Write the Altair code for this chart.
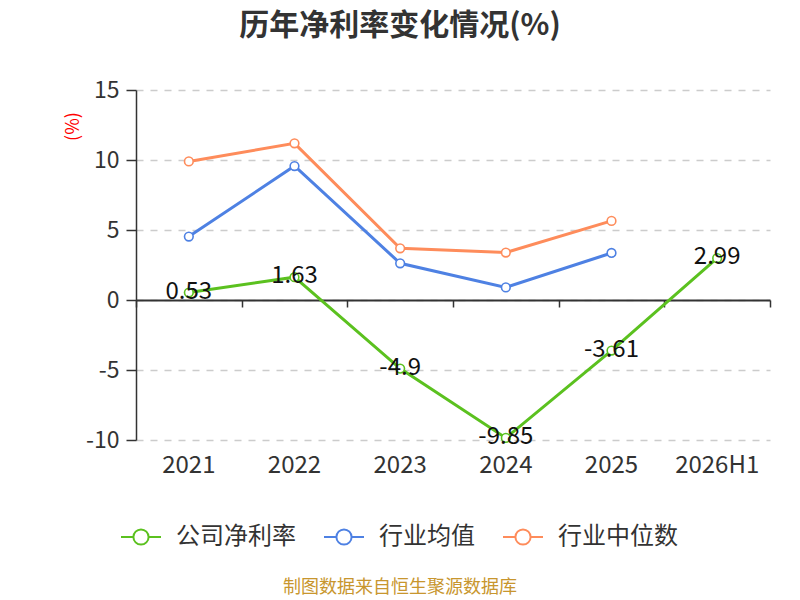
import altair as alt
import pandas as pd

years = ["2021", "2022", "2023", "2024", "2025", "2026H1"]
company = [0.53, 1.63, -4.9, -9.85, -3.61, 2.99]
ind_mean = [4.53, 9.57, 2.62, 0.9, 3.36, None]
ind_median = [9.9, 11.19, 3.69, 3.39, 5.65, None]
series_names = ["公司净利率", "行业均值", "行业中位数"]
colors = ["#5bc11f", "#4e81e3", "#fe8c5b"]
y_ticks = [-10, -5, 0, 5, 10, 15]

FONT = "Noto Sans CJK SC"

rows = []
for name, vals in zip(series_names, [company, ind_mean, ind_median]):
    for yr, v in zip(years, vals):
        if v is not None:
            rows.append({"year": yr, "series": name, "value": v,
                         "label": f"{v:g}" if name == series_names[0] else ""})
df = pd.DataFrame(rows)

W, H = 634, 350
zero_offset = -H * 10 / 25  # y=0 position from bottom

xscale = alt.Scale(type="band", domain=years, paddingInner=0, paddingOuter=0)
yscale = alt.Scale(domain=[-10, 15], nice=False, zero=False)
cscale = alt.Scale(domain=series_names, range=colors)

yaxis = alt.Axis(
    values=y_ticks, title="(%)", titleColor="red", titleFontSize=18,
    titleFontWeight="normal", titleAngle=270, titleX=-63, titleY=36,
    titleAlign="center", titleBaseline="middle", titleFont=FONT,
    labelExpr="'' + datum.value",
    labelFontSize=23, labelColor="#333", labelFont=FONT, labelPadding=7,
    domainColor="#333", domainWidth=1.5, tickColor="#333", tickSize=10,
    tickWidth=1.5, grid=True, gridDash=[7, 7], gridColor="#cccccc", gridWidth=1.5,
)

base = alt.Chart(df)

zero_axis = base.mark_point(opacity=0).encode(
    x=alt.X("year:N", scale=xscale, sort=years,
            axis=alt.Axis(orient="bottom", title=None, labels=False,
                          offset=zero_offset, domain=True, domainColor="#333",
                          domainWidth=2, ticks=True, tickBand="extent", tickSize=7,
                          tickColor="#333", tickWidth=1.5, grid=False)),
    y=alt.Y("value:Q", scale=yscale, axis=yaxis),
)

lines = base.mark_line(strokeWidth=3).encode(
    x=alt.X("year:N", scale=xscale, sort=years,
            axis=alt.Axis(orient="bottom", title=None, domain=False, ticks=False,
                          grid=False, labelFontSize=24, labelColor="#333",
                          labelFont=FONT, labelPadding=13, labelAngle=0)),
    y=alt.Y("value:Q", scale=yscale),
    color=alt.Color("series:N", sort=series_names, scale=cscale,
                    legend=alt.Legend(
                        title=None, orient="none", direction="horizontal",
                        legendX=-16, legendY=426,
                        symbolType="M-1,0L-0.38,0M0.38,0L1,0M0.38,0A0.38,0.38,0,1,1,-0.38,0A0.38,0.38,0,1,1,0.38,0",
                        symbolSize=1600, symbolStrokeWidth=2, symbolFillColor="white",
                        labelFontSize=24, labelColor="#333", labelFont=FONT,
                        labelOffset=14, columnPadding=24)),
)

points = base.mark_point(filled=True, fill="white", size=75, strokeWidth=1.6,
                         opacity=1).encode(
    x=alt.X("year:N", scale=xscale, sort=years, axis=None),
    y=alt.Y("value:Q", scale=yscale),
    stroke=alt.Stroke("series:N", scale=cscale, legend=None),
)

labels = base.transform_filter(alt.datum.series == series_names[0]).mark_text(
    fontSize=24, font=FONT, color="#111", dy=-1, align="center", baseline="middle"
).encode(
    x=alt.X("year:N", scale=xscale, sort=years, axis=None),
    y=alt.Y("value:Q", scale=yscale),
    text="label:N",
)

footer = alt.Chart(pd.DataFrame({"t": ["制图数据来自恒生聚源数据库"]})).mark_text(
    fontSize=18, font=FONT, color="#c8962e", align="center", baseline="middle"
).encode(text="t:N", x=alt.value(264), y=alt.value(498))

chart = alt.layer(zero_axis, lines, points, labels, footer).resolve_axis(
    x="independent"
).properties(
    width=W, height=H,
    autosize=alt.AutoSizeParams(type="none"),
    padding={"left": 128, "top": 82, "right": 22, "bottom": 158},
    title=alt.TitleParams("历年净利率变化情况(%)", fontSize=30, fontWeight="bold",
                          color="#333", font=FONT, anchor="middle", dx=-53, offset=38),
).configure(background="white", view=alt.ViewConfig(stroke=None))

chart.save("out.html", embed_options={"renderer": "svg", "actions": False})
